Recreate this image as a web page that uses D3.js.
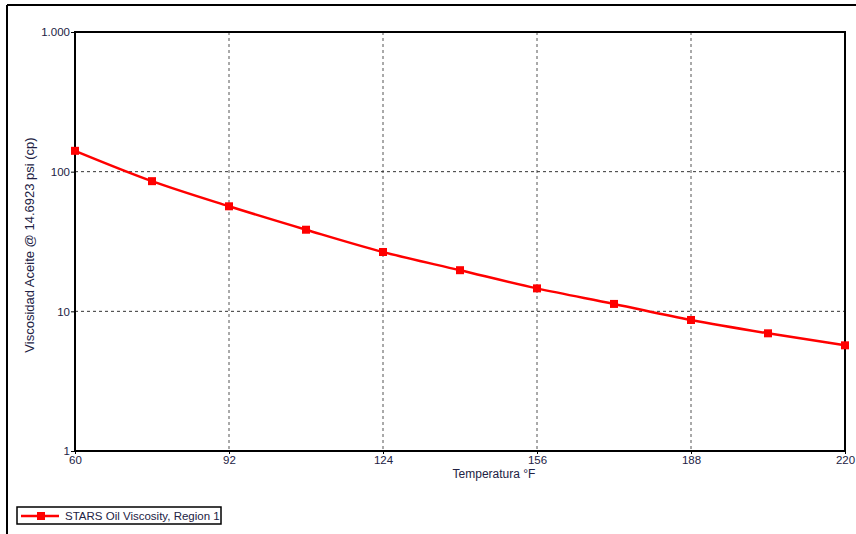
<!DOCTYPE html>
<html><head><meta charset="utf-8">
<script src="https://cdn.jsdelivr.net/npm/d3@7"></script>
<style>body{margin:0;background:#fff}svg{display:block}text{font-family:Arial,"Liberation Sans",sans-serif}</style>
</head><body>
<script>
const temps = [60, 76, 92, 108, 124, 140, 156, 172, 188, 204, 220];
const viscosity = [141, 85.5, 56.5, 38.4, 26.6, 19.7, 14.6, 11.3, 8.67, 6.96, 5.71];
const xTicks = [60, 92, 124, 156, 188, 220];
const yTicks = [1, 10, 100, 1000];
const yTickLabels = ["1", "10", "100", "1.000"];
const seriesName = "STARS Oil Viscosity, Region 1";

const W = 856, H = 534;
const svg = d3.select("body").append("svg").attr("width", W).attr("height", H);
const m = {l: 75, r: 845, t: 32, b: 451};
const x = d3.scaleLinear().domain([60, 220]).range([m.l, m.r]);
const y = d3.scaleLog().domain([1, 1000]).range([m.b, m.t]);

// outer frame
svg.append("line").attr("x1", 7).attr("x2", 7).attr("y1", 5).attr("y2", H).attr("stroke", "#000").attr("stroke-width", 2);
svg.append("line").attr("x1", 7).attr("x2", W).attr("y1", 5).attr("y2", 5).attr("stroke", "#000").attr("stroke-width", 2);

// grid
svg.append("g").selectAll("line").data(xTicks.slice(1, -1)).join("line")
  .attr("x1", d => x(d)).attr("x2", d => x(d)).attr("y1", m.t).attr("y2", m.b)
  .attr("stroke", "#555").attr("stroke-dasharray", "3,3");
svg.append("g").selectAll("line").data(yTicks.slice(1, -1)).join("line")
  .attr("x1", m.l).attr("x2", m.r).attr("y1", d => y(d)).attr("y2", d => y(d))
  .attr("stroke", "#333").attr("stroke-dasharray", "3,3");

// plot frame
svg.append("rect").attr("x", m.l).attr("y", m.t).attr("width", m.r - m.l).attr("height", m.b - m.t)
  .attr("fill", "none").attr("stroke", "#000").attr("stroke-width", 2);

// y ticks
const yAxis = d3.axisLeft(y).tickValues(yTicks).tickFormat((d, i) => yTickLabels[i]).tickSize(4);
const gy = svg.append("g").attr("transform", `translate(${m.l},0)`).call(yAxis);
gy.select(".domain").remove();
gy.selectAll("text").attr("font-size", 11.5).attr("fill", "#222244").attr("x", -5);
gy.selectAll("line").attr("stroke", "#000");

const xAxis = d3.axisBottom(x).tickValues(xTicks).tickFormat(d3.format("d")).tickSize(3);
const gx = svg.append("g").attr("transform", `translate(0,${m.b})`).call(xAxis);
gx.select(".domain").remove();
gx.selectAll("text").attr("font-size", 11.5).attr("fill", "#222244").attr("y", 5);
gx.selectAll("line").attr("stroke", "#000");

svg.append("text").attr("x", 494).attr("y", 478).attr("text-anchor", "middle")
  .attr("font-size", 12).attr("fill", "#222244").text("Temperatura °F");
svg.append("text").attr("transform", `translate(34,245) rotate(-90)`).attr("text-anchor", "middle")
  .attr("font-size", 13).attr("fill", "#222244").text("Viscosidad Aceite @ 14.6923 psi (cp)");

// series
const pts = temps.map((t, i) => [t, viscosity[i]]);
svg.append("path").datum(pts)
  .attr("d", d3.line().x(d => x(d[0])).y(d => y(d[1])).curve(d3.curveMonotoneX))
  .attr("fill", "none").attr("stroke", "#ff0000").attr("stroke-width", 2.5);
svg.append("g").selectAll("rect").data(pts).join("rect")
  .attr("x", d => x(d[0]) - 4).attr("y", d => y(d[1]) - 4).attr("width", 8).attr("height", 8).attr("fill", "#ff0000");

// legend
const lg = svg.append("g");
lg.append("rect").attr("x", 17).attr("y", 507).attr("width", 204).attr("height", 17)
  .attr("fill", "#fff").attr("stroke", "#000").attr("stroke-width", 1.5);
lg.append("line").attr("x1", 21).attr("x2", 59).attr("y1", 516).attr("y2", 516).attr("stroke", "#ff0000").attr("stroke-width", 2.5);
lg.append("rect").attr("x", 37).attr("y", 512).attr("width", 8).attr("height", 8).attr("fill", "#ff0000");
lg.append("text").attr("x", 65).attr("y", 520).attr("font-size", 11.5).attr("fill", "#222244").text(seriesName);
</script>
</body></html>
